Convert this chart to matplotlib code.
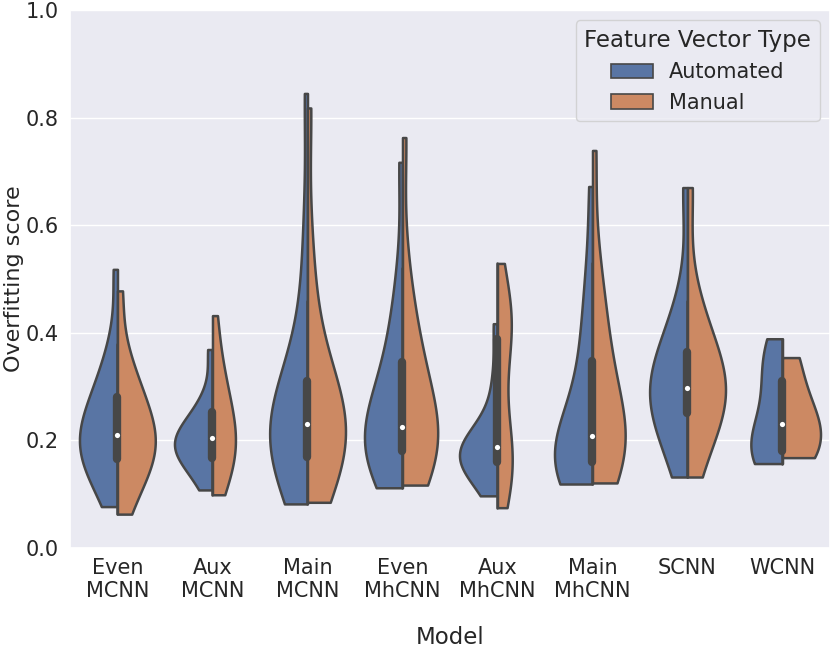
import numpy as np
import matplotlib
matplotlib.use("Agg")
import matplotlib.pyplot as plt
import seaborn as sns
from matplotlib.patches import Patch

models = ["Even\nMCNN", "Aux\nMCNN", "Main\nMCNN", "Even\nMhCNN",
          "Aux\nMhCNN", "Main\nMhCNN", "SCNN", "WCNN"]
hue_labels = ["Automated", "Manual"]

# overfitting scores per model
automated = [
    [0.077, 0.11, 0.135, 0.15, 0.165, 0.18, 0.19, 0.2, 0.21, 0.225, 0.24, 0.26, 0.28, 0.3, 0.33, 0.38, 0.518],
    [0.108, 0.135, 0.155, 0.168, 0.178, 0.186, 0.193, 0.2, 0.208, 0.218, 0.232, 0.25, 0.28, 0.369],
    [0.082, 0.1, 0.125, 0.15, 0.165, 0.18, 0.195, 0.21, 0.22, 0.23, 0.24, 0.255, 0.27, 0.29, 0.31, 0.37, 0.46, 0.6, 0.845],
    [0.112, 0.13, 0.15, 0.165, 0.18, 0.19, 0.2, 0.21, 0.22, 0.235, 0.26, 0.29, 0.33, 0.36, 0.42, 0.5, 0.717],
    [0.097, 0.125, 0.145, 0.158, 0.166, 0.172, 0.177, 0.18, 0.183, 0.19, 0.205, 0.24, 0.31, 0.417],
    [0.119, 0.125, 0.133, 0.14, 0.148, 0.155, 0.162, 0.17, 0.178, 0.188, 0.2, 0.22, 0.26, 0.3, 0.34, 0.39, 0.45, 0.52, 0.672],
    [0.132, 0.18, 0.22, 0.25, 0.27, 0.285, 0.295, 0.31, 0.33, 0.36, 0.4, 0.45, 0.67],
    [0.157, 0.168, 0.18, 0.2, 0.245, 0.31, 0.35, 0.389],
]
manual = [
    [0.063, 0.1, 0.13, 0.15, 0.165, 0.18, 0.19, 0.2, 0.215, 0.23, 0.25, 0.27, 0.29, 0.32, 0.36, 0.478],
    [0.099, 0.12, 0.145, 0.165, 0.18, 0.195, 0.21, 0.225, 0.245, 0.265, 0.29, 0.32, 0.36, 0.432],
    [0.085, 0.105, 0.13, 0.155, 0.17, 0.19, 0.205, 0.22, 0.23, 0.24, 0.255, 0.27, 0.29, 0.31, 0.37, 0.44, 0.56, 0.818],
    [0.117, 0.135, 0.155, 0.17, 0.185, 0.195, 0.205, 0.215, 0.23, 0.25, 0.28, 0.32, 0.35, 0.38, 0.43, 0.52, 0.763],
    [0.075, 0.1, 0.12, 0.135, 0.15, 0.16, 0.17, 0.178, 0.184, 0.21, 0.25, 0.3, 0.35,
     0.385, 0.4, 0.41, 0.42, 0.43, 0.44, 0.455, 0.47, 0.529],
    [0.121, 0.14, 0.155, 0.17, 0.18, 0.19, 0.2, 0.215, 0.235, 0.26, 0.29, 0.33, 0.37, 0.41, 0.46, 0.53, 0.739],
    [0.132, 0.19, 0.23, 0.255, 0.275, 0.29, 0.3, 0.315, 0.335, 0.365, 0.41, 0.46, 0.67],
    [0.168, 0.185, 0.23, 0.27, 0.354],
]


def kde_curve(values, gridsize=100):
    v = np.asarray(values, dtype=float)
    bw = np.std(v, ddof=1) * len(v) ** (-1 / 5)
    grid = np.linspace(v.min(), v.max(), gridsize)
    z = (grid[:, None] - v[None, :]) / bw
    dens = np.exp(-0.5 * z ** 2).sum(axis=1) / (len(v) * bw * np.sqrt(2 * np.pi))
    return grid, dens


sns.set_theme(style="darkgrid")
colors = [sns.desaturate(c, 0.75) for c in sns.color_palette("deep")[:2]]
edge = "#474747"

fig = plt.figure(figsize=(8.3, 6.56), dpi=100)
ax = fig.add_axes([0.0843, 0.1646, 0.9157, 0.8201])

half = 0.4
for i, (a, m) in enumerate(zip(automated, manual)):
    ya, da = kde_curve(a)
    ym, dm = kde_curve(m)
    top = max(da.max(), dm.max())
    ax.fill_betweenx(ya, i - da / top * half, i, facecolor=colors[0],
                     edgecolor=edge, linewidth=1.8, zorder=2)
    ax.fill_betweenx(ym, i, i + dm / top * half, facecolor=colors[1],
                     edgecolor=edge, linewidth=1.8, zorder=2)

    both = np.array(a + m)
    q1, med, q3 = np.percentile(both, [25, 50, 75])
    iqr = q3 - q1
    lo = both[both >= q1 - 1.5 * iqr].min()
    hi = both[both <= q3 + 1.5 * iqr].max()
    ax.plot([i, i], [lo, hi], color=edge, lw=1.8, zorder=3)
    ax.plot([i, i], [q1, q3], color=edge, lw=6, solid_capstyle="round", zorder=3)
    ax.scatter([i], [med], s=14, color="white", zorder=4, linewidth=0)

ax.set_xlim(-0.5, len(models) - 0.5)
ax.set_ylim(0, 1.0)
ax.set_xticks(range(len(models)))
ax.set_xticklabels(models, fontsize=15)
ax.set_yticks(np.arange(0, 1.01, 0.2))
ax.set_yticklabels([f"{t:.1f}" for t in np.arange(0, 1.01, 0.2)], fontsize=15)
ax.tick_params(axis="both", length=0)
ax.tick_params(axis="y", pad=8)
ax.tick_params(axis="x", pad=7)
ax.xaxis.grid(False)
ax.set_xlabel("Model", fontsize=16.5, labelpad=18)
ax.set_ylabel("Overfitting score", fontsize=16, labelpad=1)

handles = [Patch(facecolor=c, edgecolor=edge, linewidth=1.2, label=l)
           for c, l in zip(colors, hue_labels)]
ax.legend(handles=handles, title="Feature Vector Type", loc="upper right",
          fontsize=15, title_fontsize=16.5)

fig.savefig("out.png", dpi=100)
